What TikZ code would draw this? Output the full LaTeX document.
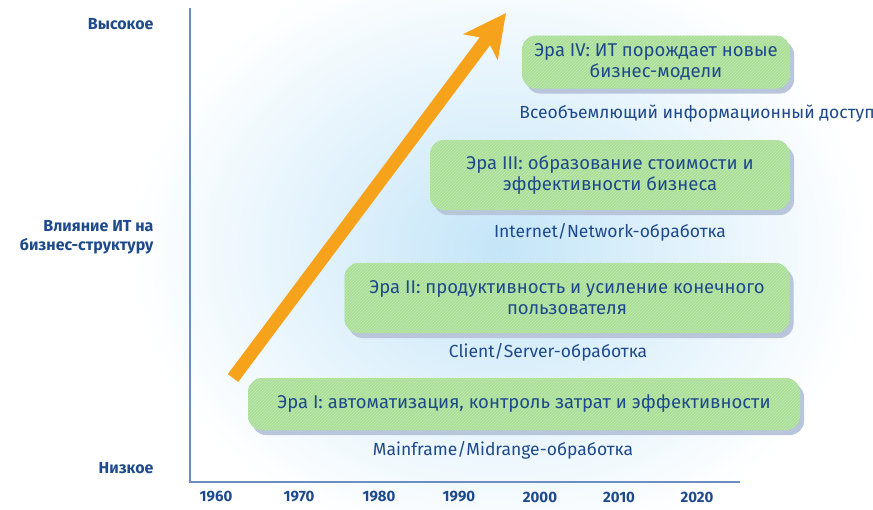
\documentclass[tikz,border=0pt]{standalone}
\usepackage{fontspec}
\setmainfont{Fira Sans}
\usetikzlibrary{arrows.meta,patterns,shadows}
\definecolor{txt}{HTML}{1E4A8C}
\definecolor{boxg}{HTML}{A9DE96}
\definecolor{hatchg}{HTML}{C2E9B2}
\definecolor{shad}{HTML}{B8C5DA}
\definecolor{axisc}{HTML}{6D8CBF}
\definecolor{orng}{HTML}{F7A21B}
\definecolor{bgblue}{HTML}{C4E5F8}
\tikzset{
  era/.style={rounded corners=14pt, fill=boxg, text=txt, align=center,
    font=\fontsize{18.5}{21}\selectfont, inner sep=0pt,
    postaction={pattern=north east lines, pattern color=hatchg},
    drop shadow={shadow xshift=4pt, shadow yshift=-5pt, fill=shad, opacity=1}},
  sub/.style={text=txt, font=\fontsize{17.5}{20}\selectfont},
  lab/.style={text=txt, font=\bfseries\fontsize{16}{19}\selectfont, align=right, anchor=east},
  yr/.style={text=txt, font=\bfseries\fontsize{15}{17}\selectfont},
  axis/.style={draw=axisc, line width=1.5pt}
}
\begin{document}
\begin{tikzpicture}[x=1pt,y=-1pt]
\useasboundingbox (0,0) rectangle (873,509);
% background halftone glow
\shade[inner color=bgblue, outer color=white] (500,250) ellipse [x radius=370, y radius=300];
% axes
\coordinate (ytop) at (190,8);
\coordinate (orig) at (190,482);
\coordinate (xend) at (740,482);
\draw[axis] (ytop) -- (orig) -- (xend);
% left labels
\node[lab] (hi) at (157,24) {Высокое};
\node[lab] (mid) at (157,237) {Влияние ИТ на\\бизнес-структуру};
\node[lab] (lo) at (157,468) {Низкое};
% years
\foreach \y/\x in {1960/216,1970/299,1980/379,1990/459,2000/540,2010/619,2020/697}
  \node[yr] (y\y) at (\x,497) {\y};
% boxes
\node[era, minimum width=552pt, minimum height=52pt] (e1) at (524,404)
  {Эра I: автоматизация, контроль затрат и эффективности};
\node[era, minimum width=445pt, minimum height=70pt] (e2) at (567,298)
  {Эра II: продуктивность и усиление конечного\\пользователя};
\node[era, minimum width=360pt, minimum height=70pt] (e3) at (610,175)
  {Эра III: образование стоимости и\\эффективности бизнеса};
\node[era, minimum width=268pt, minimum height=53pt] (e4) at (656,62)
  {Эра IV: ИТ порождает новые\\бизнес-модели};
% sub labels
\node[sub] (s1) at (503,450) {Mainframe/Midrange-обработка};
\node[sub] (s2) at (548,352) {Client/Server-обработка};
\node[sub] (s3) at (610,232) {Internet/Network-обработка};
\node[sub] (s4) at (697,114) {Всеобъемлющий информационный доступ};
% arrow
\coordinate (as) at (233,378);
\coordinate (ae) at (506,13);
\draw[orng, line width=13pt, -{Stealth[length=42pt, width=42pt, inset=10pt]}] (as) -- (ae);
\end{tikzpicture}
\end{document}
